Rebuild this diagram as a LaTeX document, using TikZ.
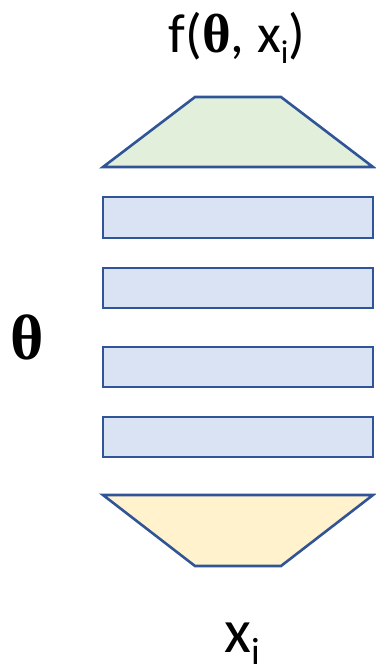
\documentclass[tikz,border=0pt]{standalone}
\usepackage{fontspec}
\setmainfont{Carlito}
\newfontfamily\thetafont{Liberation Serif}
\definecolor{edgeblue}{HTML}{2F5597}
\definecolor{layerblue}{HTML}{DAE3F3}
\definecolor{outgreen}{HTML}{E2EFDA}
\definecolor{inyellow}{HTML}{FFF2CC}
\tikzset{
  layer/.style={draw=edgeblue, line width=2.6pt, line join=miter},
}
\begin{document}
\begin{tikzpicture}[x=1pt,y=-1pt]
\useasboundingbox (0,0) rectangle (375,671);
% output trapezoid
\filldraw[layer, fill=outgreen] (103,167) -- (195,97) -- (281,97) -- (373,167) -- cycle;
% hidden layers
\foreach \t/\b in {197/238, 268/308, 347/387, 417/457}
  \filldraw[layer, fill=layerblue] (103,\t) rectangle (373,\b);
% input trapezoid
\filldraw[layer, fill=inyellow] (103,495) -- (373,495) -- (281,566) -- (195,566) -- cycle;
% labels
\node[anchor=base, inner sep=0pt] (out) at (237,53)
  {\fontsize{55}{60}\selectfont f({\thetafont\bfseries θ}, x\raisebox{-0.2em}{\fontsize{33}{33}\selectfont i})};
\node[anchor=base, inner sep=0pt] (theta) at (27,359)
  {\fontsize{64}{70}\selectfont\thetafont\bfseries θ};
\node[anchor=base west, inner sep=0pt] (xin) at (224,652)
  {\fontsize{62}{70}\selectfont x\raisebox{-0.2em}{\fontsize{38}{38}\selectfont i}};
\end{tikzpicture}
\end{document}
